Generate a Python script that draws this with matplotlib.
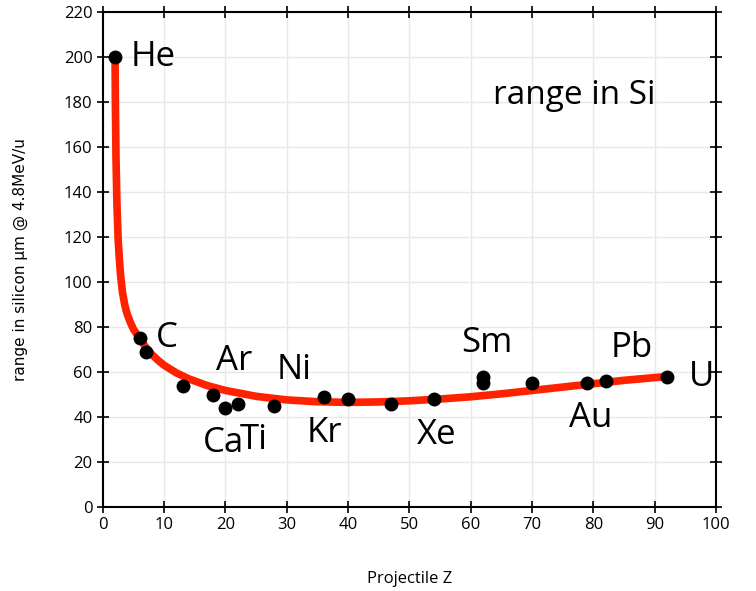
import numpy as np
import matplotlib.pyplot as plt

# measured points (projectile Z, range in Si um)
z_pts = [2, 6, 7, 13, 18, 20, 22, 28, 36, 40, 47, 54, 62, 62, 70, 79, 82, 92]
r_pts = [200, 75, 69, 54, 50, 44, 46, 45, 49, 48, 46, 48, 58, 55, 55, 55, 56, 58]

# fitted curve
z_fit = [2, 2.05, 2.15, 2.3, 2.5, 2.7, 2.9, 3.2, 3.6, 4.0, 4.5, 5.0, 5.5, 6,
         7, 8, 9, 10, 12, 14, 17, 20, 25, 30, 35, 40, 45, 50, 55, 60, 65, 70,
         75, 80, 85, 92]
r_fit = [198, 180, 155, 135, 119, 110, 103, 95.5, 89.5, 85.5, 82, 79, 77, 75,
         71, 67.8, 65.2, 63, 59.6, 57, 54, 51.8, 49.2, 47.6, 46.8, 46.5, 46.7,
         47.2, 48, 49, 50.3, 51.8, 53.3, 54.8, 56.3, 58]

labels = ["He", "C", "Ar", "Ca", "Ti", "Ni", "Kr", "Xe", "Sm", "Pb", "Au", "U"]
lab_x = [4.6, 8.6, 18.4, 16.3, 22.3, 28.4, 33.3, 51.2, 58.4, 82.9, 76.0, 95.6]
lab_y = [200, 75, 65, 28.5, 30, 61, 33, 32, 73, 70.7, 39.5, 58]

fig = plt.figure(figsize=(7.56, 5.91), dpi=100)
ax = fig.add_axes([0.136, 0.142, 0.811, 0.838])

ax.plot(z_fit, r_fit, color="#ff2200", lw=5.5, solid_capstyle="butt", zorder=2)
ax.plot(z_pts, r_pts, "o", color="black", ms=9, zorder=3)

lab_font = "Open Sans"
for s, x, y in zip(labels, lab_x, lab_y):
    ax.text(x, y, s, fontsize=25, family=lab_font, ha="left", va="center")
ax.text(63.6, 183, "range in Si", fontsize=24, family=lab_font, ha="left", va="center")

ax.set_xlim(0, 100)
ax.set_ylim(0, 220)
ax.set_xticks(np.arange(0, 101, 10))
ax.set_yticks(np.arange(0, 221, 20))
ax.grid(True, color="#e8e8e8", lw=1)
ax.set_axisbelow(True)
ax.tick_params(direction="inout", length=8, width=1.2, top=True, right=True,
               labelsize=12)
for lbl in ax.get_xticklabels() + ax.get_yticklabels():
    lbl.set_family(lab_font)
for sp in ax.spines.values():
    sp.set_linewidth(1.5)

ax.set_xlabel("Projectile Z", fontsize=12, family=lab_font, labelpad=27)
ax.set_ylabel("range in silicon \u00b5m @ 4.8MeV/u", fontsize=11, labelpad=26)

fig.savefig("out.png", dpi=100)
